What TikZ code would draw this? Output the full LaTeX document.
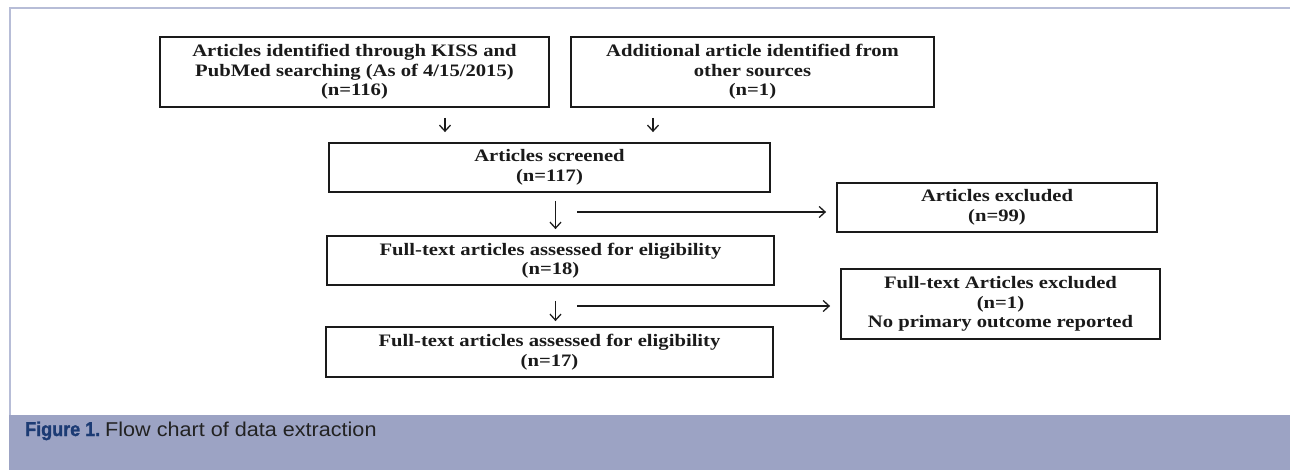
\documentclass[tikz,border=0pt]{standalone}
\usepackage{fontspec}
\setmainfont{Liberation Serif}[FakeStretch=1.18]
\newfontfamily\capfont{Liberation Sans}[FakeStretch=1.08]
\newfontfamily\capboldfont{Liberation Sans}[FakeStretch=0.9, BoldFeatures={FakeBold=1.2}]
\usetikzlibrary{arrows.meta}

\definecolor{framegray}{HTML}{B7BDD7}
\definecolor{bandblue}{HTML}{9CA3C4}
\definecolor{capnavy}{HTML}{1C3B74}
\definecolor{captext}{HTML}{222222}
\definecolor{boxline}{HTML}{1A1A1A}

\tikzset{
	stagebox/.style={draw=boxline, line width=1.8pt, align=center, inner sep=0pt,
		text=boxline, font=\fontsize{17.5}{19.5}\selectfont\bfseries},
	flow/.style={draw=boxline, line width=1.3pt,
		-{Straight Barb[length=6pt,width=11pt,line width=1.3pt]}},
}

\begin{document}
\begin{tikzpicture}[x=1pt,y=-1pt]
	\useasboundingbox (0,0) rectangle (1290,470);
	% frame and caption band
	\draw[framegray, line width=1.5pt] (1300,8) -- (10,8) -- (10,415);
	\fill[bandblue] (9,415) rectangle (1290,470);
	\node[anchor=base west, inner sep=0pt, text=capnavy] (caption) at (25,436)
		{\fontsize{20}{22}\capboldfont\bfseries Figure 1.\ \textcolor{captext}{\capfont\mdseries Flow chart of data extraction}};
	% boxes
	\node[stagebox, minimum width=389pt, minimum height=70pt] (src1) at (354.5,72)
		{Articles identified through KISS and\\PubMed searching (As of 4/15/2015)\\(n=116)};
	\node[stagebox, minimum width=363pt, minimum height=70pt] (src2) at (752.5,72)
		{Additional article identified from\\other sources\\(n=1)};
	\node[stagebox, minimum width=441pt, minimum height=49pt] (screen) at (549.5,167.5)
		{Articles screened\\(n=117)};
	\node[stagebox, minimum width=447pt, minimum height=49pt] (full) at (550.5,260.5)
		{Full-text articles assessed for eligibility\\(n=18)};
	\node[stagebox, minimum width=447pt, minimum height=50pt] (incl) at (549.5,352)
		{Full-text articles assessed for eligibility\\(n=17)};
	\node[stagebox, minimum width=320pt, minimum height=49pt] (excl) at (997,207.5)
		{Articles excluded\\(n=99)};
	\node[stagebox, minimum width=319pt, minimum height=70pt] (exfull) at (1000.5,304)
		{Full-text Articles excluded\\(n=1)\\No primary outcome reported};
	% arrows
	\coordinate (in1) at ([xshift=-104.5pt]screen.north);
	\coordinate (in2) at ([xshift=103.5pt]screen.north);
	\draw[flow, shorten <=10pt, shorten >=10pt] (src1.south -| in1) -- (in1);
	\draw[flow, shorten <=10pt, shorten >=10pt] (src2.south -| in2) -- (in2);
	\draw[flow, shorten <=8pt, shorten >=6pt] ([xshift=6pt]screen.south) -- ([xshift=6pt]screen.south |- full.north);
	\draw[flow, shorten <=15pt, shorten >=5pt] ([xshift=5pt]full.south) -- ([xshift=5pt]full.south |- incl.north);
	\coordinate (out1) at (577,212);
	\coordinate (out2) at (577,306);
	\draw[flow, shorten >=10pt] (out1) -- (out1 -| excl.west);
	\draw[flow, shorten >=10pt] (out2) -- (out2 -| exfull.west);
\end{tikzpicture}
\end{document}
